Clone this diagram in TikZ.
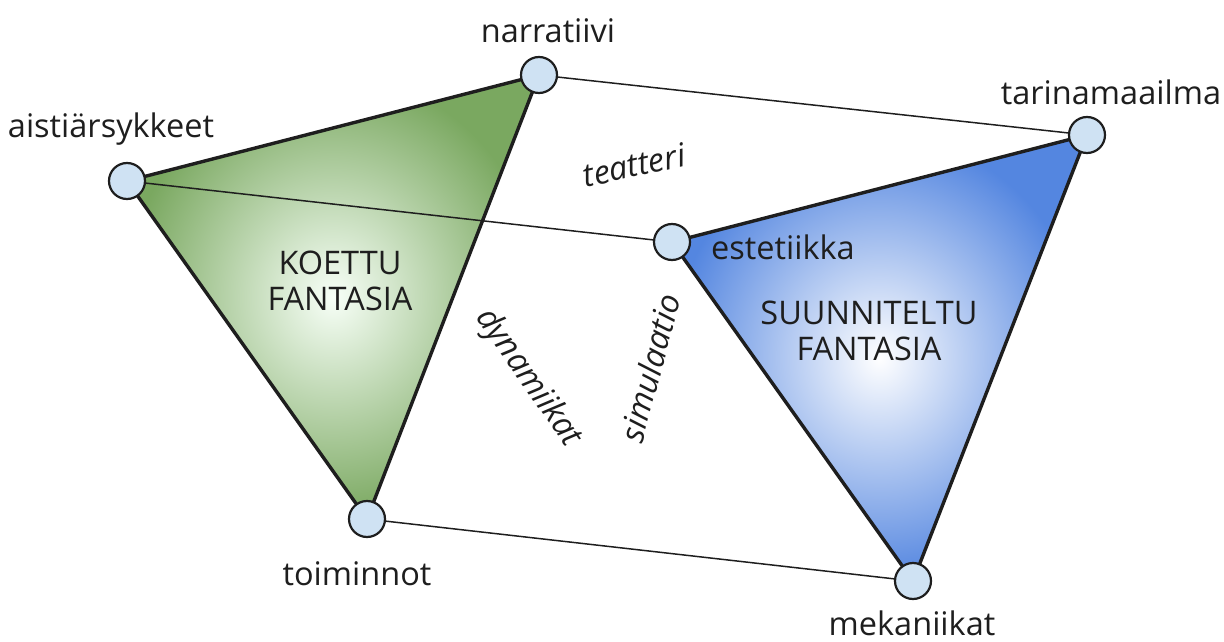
\documentclass[tikz,border=0pt]{standalone}
\usepackage{fontspec}
\setmainfont{Open Sans}
\definecolor{vfill}{RGB}{207,226,243}
\definecolor{gout}{RGB}{122,168,96}
\definecolor{bout}{RGB}{84,134,224}
\definecolor{ink}{RGB}{30,30,30}
\begin{document}
\begin{tikzpicture}[x=1pt,y=-1pt,
  vtx/.style={circle,draw=ink,fill=vfill,line width=2.2pt,minimum size=36pt,inner sep=0pt},
  lab/.style={font=\fontsize{32.5}{36}\selectfont,text=ink},
  tri/.style={line width=3.4pt,draw=ink,line join=round},
  thin/.style={line width=1.5pt,draw=ink},
  ital/.style={font=\fontsize{32.5}{36}\selectfont\itshape,text=ink}]
\useasboundingbox (0,0) rectangle (1224,642);
\coordinate (A) at (127,181);
\coordinate (N) at (539,75);
\coordinate (T) at (367,519);
\coordinate (E) at (672,242);
\coordinate (W) at (1087,135);
\coordinate (M) at (913,581);
% triangles
\shade[inner color=green!3!white, outer color=gout] (A) -- (N) -- (T) -- cycle;
\shade[inner color=white, outer color=bout] (E) -- (W) -- (M) -- cycle;
\draw[tri] (A) -- (N) -- (T) -- cycle;
\draw[tri] (E) -- (W) -- (M) -- cycle;
% thin connectors
\draw[thin] (N) -- (W);
\draw[thin] (A) -- (E);
\draw[thin] (T) -- (M);
% vertices
\node[vtx] (a) at (A) {};
\node[vtx] (n) at (N) {};
\node[vtx] (t) at (T) {};
\node[vtx] (e) at (E) {};
\node[vtx] (w) at (W) {};
\node[vtx] (m) at (M) {};
% labels
\node[lab] (ln) at (548,31) {narratiivi};
\node[lab] (la) at (111,129) {aistiärsykkeet};
\node[lab] (lw) at (1111,92) {tarinamaailma};
\node[lab] (le) at (783,247) {estetiikka};
\node[lab] (lt) at (357,574) {toiminnot};
\node[lab] (lm) at (912,623) {mekaniikat};
\node[lab,align=center] (kf) at (340,281) {KOETTU\\FANTASIA};
\node[lab,align=center] (sf) at (869,331) {SUUNNITELTU\\FANTASIA};
\node[ital,rotate=12] (te) at (634,165) {teatteri};
\node[ital,rotate=-55] (dy) at (528,378) {dynamiikat};
\node[ital,rotate=75] (si) at (650,368) {simulaatio};
\end{tikzpicture}
\end{document}
